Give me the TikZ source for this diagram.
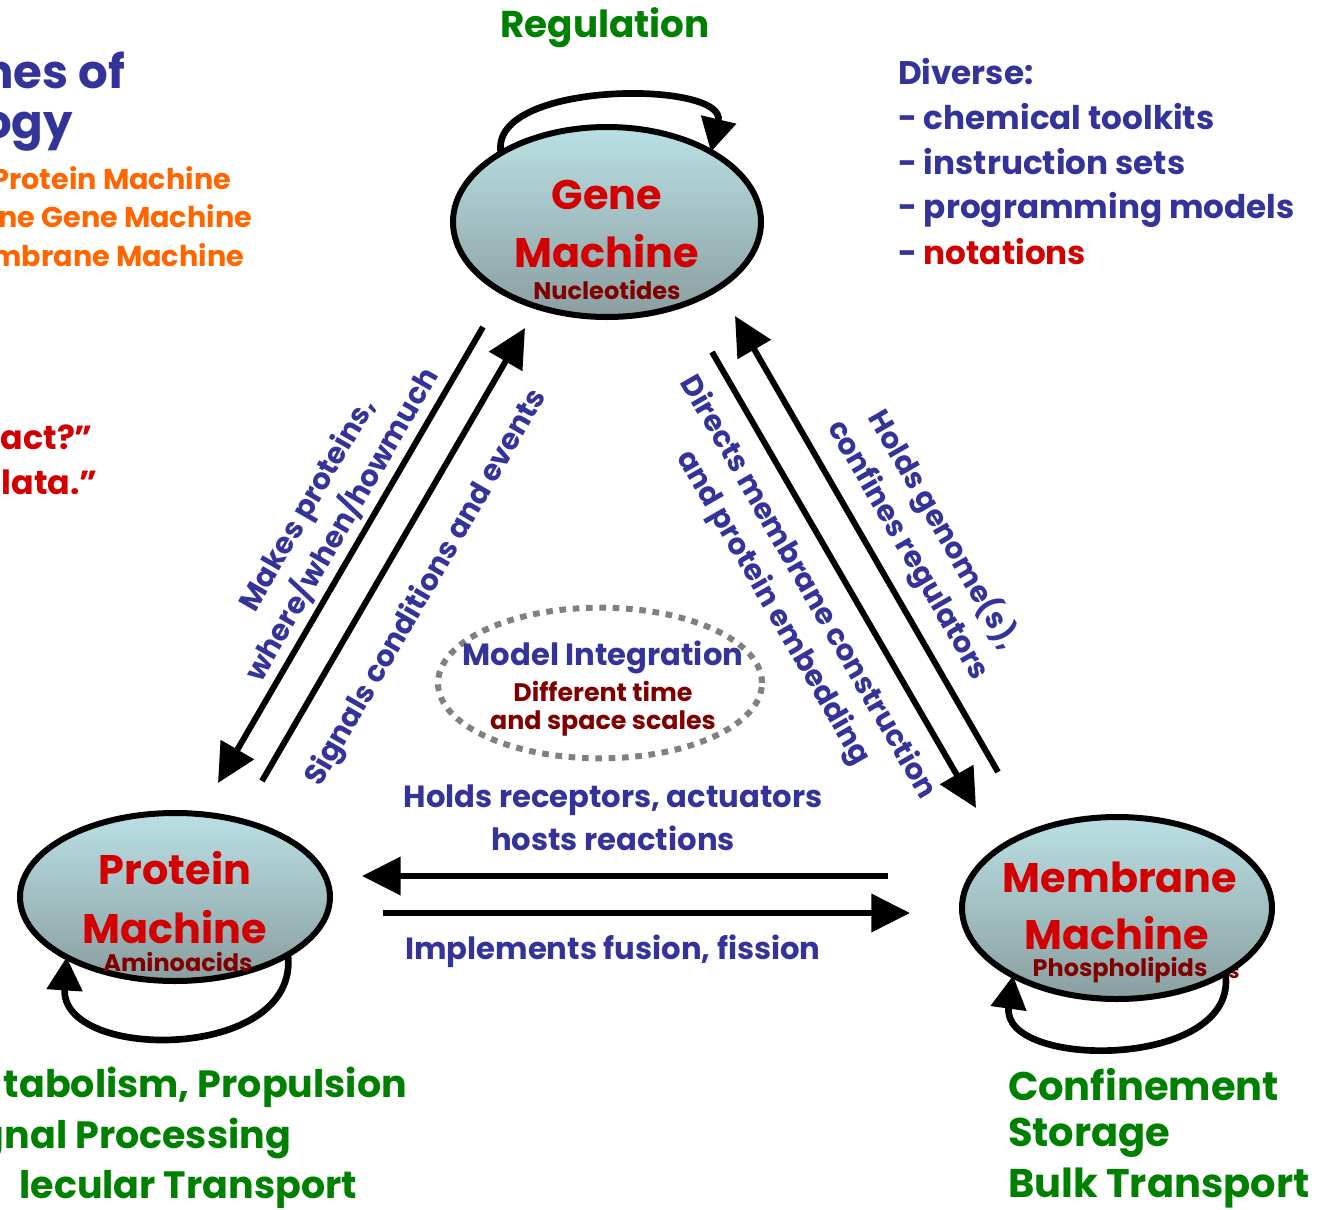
\documentclass[tikz,border=0pt]{standalone}
\usepackage{fontspec}
\setmainfont{Poppins}
\usetikzlibrary{arrows.meta,shapes.geometric}
\definecolor{cblue}{RGB}{51,51,153}
\definecolor{cred}{RGB}{210,0,0}
\definecolor{cdred}{RGB}{128,0,0}
\definecolor{cgreen}{RGB}{0,128,0}
\definecolor{corange}{RGB}{255,102,0}
\definecolor{ctop}{RGB}{186,224,228}
\definecolor{cbot}{RGB}{138,158,160}
\newcommand\fsz[2]{\fontsize{#1}{#2}\selectfont}
\begin{document}
\begin{tikzpicture}[x=0.75pt,y=-0.75pt,
  every node/.style={inner sep=0pt,outer sep=0pt,font=\bfseries},
  machine/.style={ellipse,draw=black,line width=4.5pt,top color=ctop,bottom color=cbot},
  bigtitle/.style={text=cred,font=\bfseries\fsz{31}{38}},
  subtitle/.style={text=cdred,font=\bfseries\fsz{18}{21}},
  lab/.style={text=cblue,font=\bfseries\fsz{22}{30},align=center},
  hlab/.style={text=cblue,font=\bfseries\fsz{23}{30}},
  big/.style={line width=4.5pt,-{Triangle[length=29pt,width=28pt]}},
  selfloop/.style={line width=5pt,-{Triangle[length=25pt,width=26pt]}},
  greentxt/.style={text=cgreen,font=\bfseries\fsz{30}{34}},
  greenleft/.style={text=cgreen,font=\bfseries\fsz{28.5}{34}},
  difftxt/.style={text=cblue,font=\bfseries\fsz{24.5}{28}},
  oranget/.style={text=corange,font=\bfseries\fsz{21.5}{25}},
  redq/.style={text=cred,font=\bfseries\fsz{25}{30}},
]
\useasboundingbox (0,0) rectangle (1328,1210);
\clip (0,0) rectangle (1328,1210);

% left clipped texts
\node[anchor=east,text=cblue,font=\bfseries\fsz{35}{40}] (t1) at (125,70) {nes of};
\node[anchor=east,text=cblue,font=\bfseries\fsz{35}{40}] (t2) at (73,132) {ogy};
\node[anchor=east,oranget] (o1) at (231,178) {Protein Machine};
\node[anchor=east,oranget] (o2) at (252,216) {ne Gene Machine};
\node[anchor=east,oranget] (o3) at (244,255) {mbrane Machine};
\node[anchor=east,redq] (r1) at (93,437) {act?”};
\node[anchor=east,redq] (r2) at (98,482) {lata.”};

% right list
\node[anchor=west,difftxt] (d0) at (898,72) {Diverse:};
\node[anchor=west,difftxt] (d1) at (898,117) {- chemical toolkits};
\node[anchor=west,difftxt] (d2) at (898,162) {- instruction sets};
\node[anchor=west,difftxt] (d3) at (898,210) {- programming models};
\node[anchor=west,difftxt] (d4) at (898,252) {- \textcolor{cred}{notations}};

% regulation
\node[text=cgreen,font=\bfseries\fsz{28}{32}] (reg) at (605,28) {Regulation};

% stray s
\node[text=cdred,font=\bfseries\fsz{15}{18}] (sx) at (1234,973) {s};

% machines
\node[machine,minimum width=231pt,minimum height=142.5pt] (gene) at (607,222) {};
\node[machine,minimum width=232.5pt,minimum height=126pt] (protein) at (175,897) {};
\node[machine,minimum width=232.5pt,minimum height=136.5pt] (membrane) at (1117,908) {};

\node[bigtitle] (g1) at (607,195) {Gene};
\node[bigtitle] (g2) at (607,251) {Machine};
\node[subtitle] (g3) at (607,290) {Nucleotides};
\node[bigtitle] (p1) at (175,868) {Protein};
\node[bigtitle] (p2) at (175,927) {Machine};
\node[subtitle] (p3) at (178,962) {Aminoacids};
\node[bigtitle] (m1) at (1120,877) {Membrane};
\node[bigtitle] (m2) at (1117,933) {Machine};
\node[subtitle] (m3) at (1120,970) {Phospholipids};

% self loops
\draw[selfloop] (gene.147) .. controls (488,80) and (728,80) .. (gene.34);
\draw[selfloop] (protein.-27) .. controls (300,1062) and (60,1062) .. (protein.-151);
\draw[selfloop] (membrane.-31) .. controls (1240,1070) and (1000,1070) .. (membrane.-147);

% arrows
\coordinate (a1s) at (483,327); \coordinate (a1e) at (218,783);
\coordinate (a2s) at (262,781); \coordinate (a2e) at (525,328);
\coordinate (a3s) at (712,352); \coordinate (a3e) at (976,808);
\coordinate (a4s) at (998,772); \coordinate (a4e) at (735,316);
\coordinate (a5s) at (888,876); \coordinate (a5e) at (362,876);
\coordinate (a6s) at (383,913); \coordinate (a6e) at (910,913);
\draw[big] (a1s) -- (a1e);
\draw[big] (a2s) -- (a2e);
\draw[big] (a3s) -- (a3e);
\draw[big] (a4s) -- (a4e);
\draw[big] (a5s) -- (a5e);
\draw[big] (a6s) -- (a6e);

% arrow labels
\node[lab,rotate=60] (l1) at (325,515) {Makes proteins,\\where/when/howmuch};
\node[lab,rotate=60] (l2) at (427,588) {Signals conditions and events};
\node[lab,rotate=-60] (l3) at (790,598) {Directs membrane construction\\and protein embedding};
\node[lab,rotate=-60] (l4) at (926,540) {Holds genome(s),\\confines regulators};
\node[hlab] (l5) at (613,800) {Holds receptors, actuators};
\node[hlab] (l6) at (613,838) {hosts reactions};
\node[hlab] (l7) at (613,951) {Implements fusion, fission};

% model integration
\node[ellipse,draw=gray,line width=4.5pt,dash pattern=on 5pt off 5pt,minimum width=243pt,minimum height=113pt] (mi) at (600,683) {};
\node[text=cblue,font=\bfseries\fsz{23}{26}] (mi1) at (603,657) {Model Integration};
\node[text=cdred,font=\bfseries\fsz{19}{22}] (mi2) at (603,691) {Different time};
\node[text=cdred,font=\bfseries\fsz{19}{22}] (mi3) at (603,723) {and space scales};

% green bottom
\node[anchor=east,greenleft] (bl1) at (407,1087) {tabolism, Propulsion};
\node[anchor=east,greenleft] (bl2) at (291,1138) {gnal Processing};
\node[anchor=east,greenleft] (bl3) at (357,1189) {lecular Transport};
\node[anchor=west,greentxt] (br1) at (1008,1085) {Confinement};
\node[anchor=west,greentxt] (br2) at (1008,1138) {Storage};
\node[anchor=west,greentxt] (br3) at (1008,1188) {Bulk Transport};
\end{tikzpicture}
\end{document}
